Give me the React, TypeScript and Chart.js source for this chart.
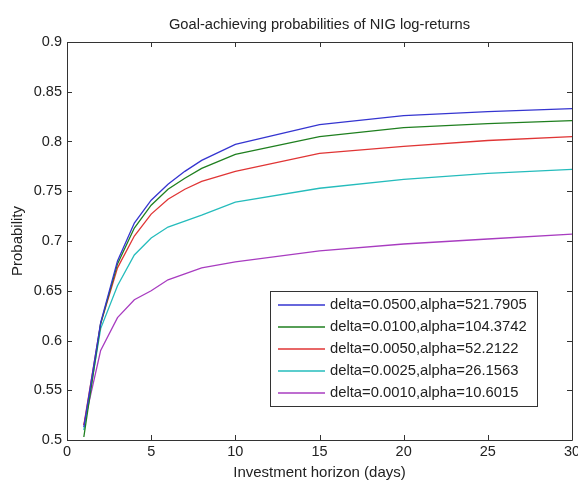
import React, { useEffect, useRef } from "react";
import { Chart, registerables } from "chart.js";

Chart.register(...registerables);

const horizons = [1, 2, 3, 4, 5, 6, 7, 8, 10, 15, 20, 25, 30];
const seriesLabels = [
  "delta=0.0500,alpha=521.7905",
  "delta=0.0100,alpha=104.3742",
  "delta=0.0050,alpha=52.2122",
  "delta=0.0025,alpha=26.1563",
  "delta=0.0010,alpha=10.6015",
];
const blueValues = [0.513, 0.618, 0.68, 0.718, 0.741, 0.757, 0.77, 0.781, 0.797, 0.817, 0.826, 0.83, 0.833];
const greenValues = [0.503, 0.617, 0.677, 0.713, 0.736, 0.752, 0.763, 0.773, 0.787, 0.805, 0.814, 0.818, 0.821];
const redValues = [0.515, 0.617, 0.673, 0.705, 0.727, 0.742, 0.752, 0.76, 0.77, 0.788, 0.795, 0.801, 0.805];
const cyanValues = [0.51, 0.612, 0.655, 0.686, 0.703, 0.714, 0.72, 0.726, 0.739, 0.753, 0.762, 0.768, 0.772];
const purpleValues = [0.515, 0.59, 0.623, 0.641, 0.65, 0.661, 0.667, 0.673, 0.679, 0.69, 0.697, 0.702, 0.707];
const seriesColors = ["#3535d0", "#1f7f1f", "#e03535", "#25bcbc", "#a83cc0"];
const xTickLabels = ["0", "5", "10", "15", "20", "25", "30"];
const yTickLabels = ["0.5", "0.55", "0.6", "0.65", "0.7", "0.75", "0.8", "0.85", "0.9"];
const titleText = "Goal-achieving probabilities of NIG log-returns";
const xTitle = "Investment horizon (days)";
const yTitle = "Probability";

const FONT = "'Liberation Sans', Arial, sans-serif";

const boxPlugin = {
  id: "matlabBox",
  afterDraw(chart: any) {
    const { ctx, chartArea } = chart;
    const { left, right, top, bottom } = chartArea;
    const xs = chart.scales.x;
    const ys = chart.scales.y;
    ctx.save();
    ctx.strokeStyle = "#333";
    ctx.lineWidth = 1;
    ctx.beginPath();
    ctx.rect(Math.round(left) + 0.5, Math.round(top) + 0.5, Math.round(right - left), Math.round(bottom - top));
    ctx.stroke();
    const tl = 5;
    ctx.beginPath();
    xs.ticks.forEach((t: any) => {
      const px = Math.round(xs.getPixelForValue(t.value)) + 0.5;
      ctx.moveTo(px, bottom);
      ctx.lineTo(px, bottom - tl);
      ctx.moveTo(px, top);
      ctx.lineTo(px, top + tl);
    });
    ys.ticks.forEach((t: any) => {
      const py = Math.round(ys.getPixelForValue(t.value)) + 0.5;
      ctx.moveTo(left, py);
      ctx.lineTo(left + tl, py);
      ctx.moveTo(right, py);
      ctx.lineTo(right - tl, py);
    });
    ctx.stroke();

    // title
    ctx.fillStyle = "#222";
    ctx.font = `14.7px ${FONT}`;
    ctx.textAlign = "center";
    ctx.textBaseline = "alphabetic";
    ctx.fillText(titleText, (left + right) / 2, 29);

    // legend
    const lx = 270, ly = 291, lw = 267, lh = 115;
    ctx.fillStyle = "#fff";
    ctx.fillRect(lx, ly, lw, lh);
    ctx.strokeStyle = "#333";
    ctx.lineWidth = 1;
    ctx.strokeRect(lx + 0.5, ly + 0.5, lw, lh);
    ctx.font = `14.8px ${FONT}`;
    ctx.textAlign = "left";
    ctx.textBaseline = "middle";
    chart.data.datasets.forEach((ds: any, i: number) => {
      const ry = ly + 14 + i * 22;
      ctx.strokeStyle = ds.borderColor;
      ctx.lineWidth = 1.3;
      ctx.beginPath();
      ctx.moveTo(lx + 8, ry);
      ctx.lineTo(lx + 55, ry);
      ctx.stroke();
      ctx.fillStyle = "#222";
      ctx.fillText(ds.label, lx + 60, ry);
    });
    ctx.restore();
  },
};

export default function App() {
  const ref = useRef<HTMLCanvasElement | null>(null);
  useEffect(() => {
    if (!ref.current) return;
    const valueSets = [blueValues, greenValues, redValues, cyanValues, purpleValues];
    const chart = new Chart(ref.current, {
      type: "line",
      data: {
        datasets: valueSets.map((vals, i) => ({
          label: seriesLabels[i],
          data: horizons.map((h, j) => ({ x: h, y: vals[j] })),
          borderColor: seriesColors[i],
          backgroundColor: seriesColors[i],
          borderWidth: 1.3,
          pointRadius: 0,
          tension: 0,
          fill: false,
        })),
      },
      options: {
        responsive: false,
        animation: false,
        layout: { padding: { top: 42, right: 6, left: 0, bottom: 0 } },
        plugins: {
          legend: { display: false },
          title: { display: false },
          tooltip: { enabled: false },
        },
        scales: {
          x: {
            type: "linear",
            min: 0,
            max: 30,
            ticks: {
              stepSize: 5,
              color: "#222",
              font: { family: FONT, size: 14.5 },
              padding: 3,
              maxRotation: 0,
              callback: (v: any) => xTickLabels[Math.round(Number(v) / 5)] ?? "",
            },
            grid: { display: false, drawTicks: false },
            border: { display: false },
            title: {
              display: true,
              text: xTitle,
              color: "#222",
              font: { family: FONT, size: 15, lineHeight: 1 },
              padding: { top: 0, bottom: 0 },
            },
            afterFit: (s: any) => {
              s.height = 40;
              s.paddingRight = 0;
              s.paddingLeft = 0;
            },
          },
          y: {
            type: "linear",
            min: 0.5,
            max: 0.9,
            ticks: {
              stepSize: 0.05,
              color: "#222",
              font: { family: FONT, size: 14.5 },
              padding: 5,
              callback: (v: any) => yTickLabels[Math.round((Number(v) - 0.5) / 0.05)] ?? "",
            },
            grid: { display: false, drawTicks: false },
            border: { display: false },
            title: {
              display: true,
              text: yTitle,
              color: "#222",
              font: { family: FONT, size: 15, lineHeight: 1 },
              padding: { top: 10, bottom: 0 },
            },
            afterFit: (s: any) => {
              s.width = 67;
              s.paddingTop = 0;
              s.paddingBottom = 0;
            },
          },
        },
      },
      plugins: [boxPlugin],
    });
    return () => chart.destroy();
  }, []);
  return (
    <div style={{ position: "absolute", left: 0, top: 0, width: 578, height: 480, background: "#fff" }}>
      <canvas ref={ref} width={578} height={480} />
    </div>
  );
}
